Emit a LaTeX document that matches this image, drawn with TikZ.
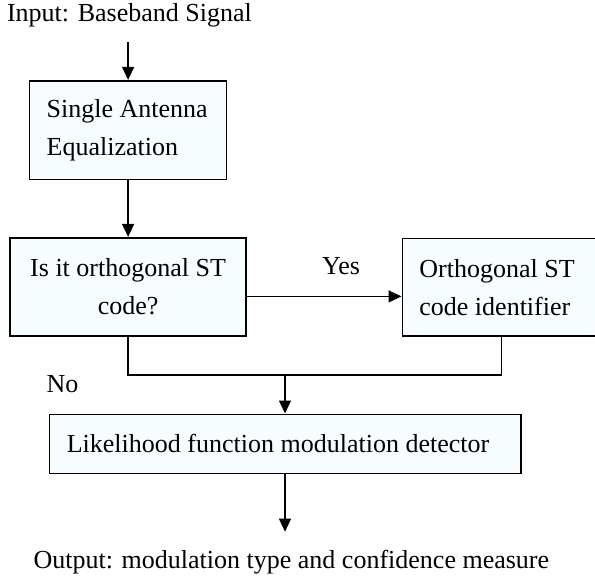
\documentclass[tikz,border=0pt]{standalone}
\usepackage{fontspec}
\setmainfont{Liberation Serif}
\usetikzlibrary{arrows.meta}
\definecolor{boxfill}{RGB}{247,253,255}

\begin{document}
\begin{tikzpicture}[x=1pt, y=-1pt,
    font=\fontsize{26}{38}\selectfont,
    block/.style={draw, line width=1.6pt, fill=boxfill, inner ysep=0pt},
    lblock/.style={block, align=flush left, inner xsep=17.1pt},
    flow/.style={line width=1.3pt, -{Triangle[length=13pt, width=12pt]}},
    txt/.style={inner sep=0pt, anchor=base west}]
    \path[use as bounding box, clip] (0,0) rectangle (595,579);

    % input and equalization
    \node[txt] (input) at (6.8,21) {Input: Baseband Signal};
    \coordinate (inTop) at (128.1,42);
    \node[lblock, text width=162.8pt, minimum height=98.6pt] (equal) at (128.1,130) {Single Antenna\\Equalization};

    % orthogonal ST code test
    \node[block, align=center, minimum width=235.8pt, minimum height=98.3pt] (isorth) at (128.1,286.9) {Is it orthogonal ST\\code?};
    \node[lblock, text width=163.5pt, minimum height=97.7pt] (stcode) at (501.15,287.15) {Orthogonal ST\\code identifier};
    \node[txt] (yes) at (322,274) {Yes};
    \node[txt] (no) at (46.3,392.7) {No};
    \coordinate (join) at (285,375);

    % modulation detector and output
    \node[lblock, inner xsep=17.5pt, text width=436.4pt, minimum height=59pt] (detect) at (285,443.8) {Likelihood function modulation detector};
    \coordinate (outTop) at (285,531.7);
    \node[txt] (output) at (33.4,568) {Output: modulation type and confidence measure};

    \draw[flow] (inTop) -- (equal.north);
    \draw[flow] (equal.south) -- (isorth.north);
    \draw[flow] ([yshift=-9.5pt]isorth.east) -- ([yshift=-9.5pt]isorth.east -| stcode.west);
    \draw[line width=1.3pt] (isorth.south) |- (join) -| (stcode.south);
    \draw[flow] (join) -- (detect.north);
    \draw[flow] (detect.south) -- (outTop);
\end{tikzpicture}
\end{document}
